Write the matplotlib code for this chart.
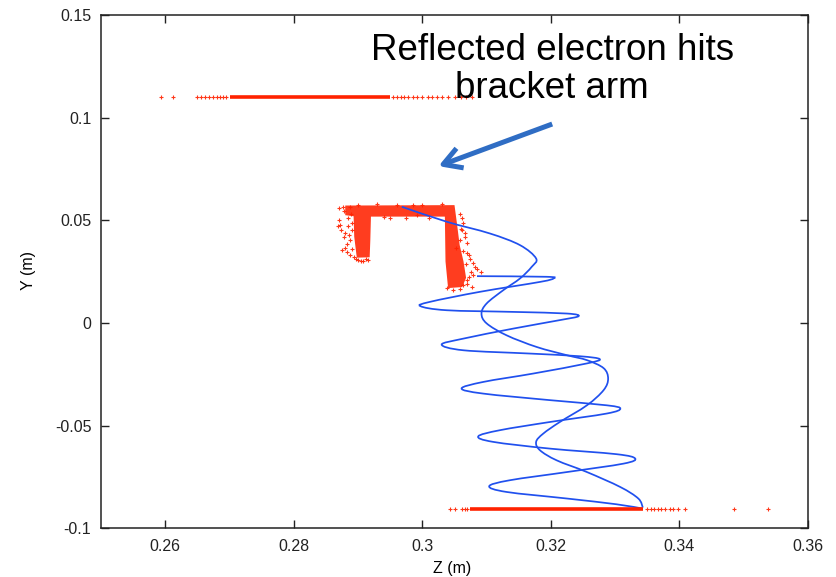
import matplotlib
matplotlib.use("Agg")
import matplotlib.pyplot as plt
from matplotlib.path import Path
from matplotlib.patches import PathPatch

# ---------------- data (Z, Y in metres) ----------------
top_dense_z = [0.2701, 0.2950]
top_y = 0.1102
top_sparse_z = [0.2594, 0.2612, 0.2649, 0.2655, 0.2662, 0.2668, 0.2675, 0.2680,
                0.2685, 0.2690, 0.2695, 0.2955, 0.2960, 0.2966, 0.2972, 0.2978,
                0.2985, 0.2992, 0.3000, 0.3008, 0.3015, 0.3022, 0.3030, 0.3040,
                0.3050, 0.3060, 0.3068, 0.3077]

bot_dense_z = [0.3074, 0.3344]
bot_y = -0.0904
bot_sparse_z = [0.3043, 0.3051, 0.3062, 0.3066, 0.3070, 0.3350, 0.3355, 0.3360,
                0.3366, 0.3372, 0.3378, 0.3385, 0.3390, 0.3398, 0.3409, 0.3485,
                0.3538]

bracket_z = [0.2880, 0.3050, 0.3054, 0.3058, 0.3064, 0.3068, 0.3062, 0.3040,
             0.3036, 0.3035, 0.2920, 0.2919, 0.2918, 0.2898, 0.2894, 0.2893, 0.2880]
bracket_y = [0.0572, 0.0574, 0.0480, 0.0380, 0.0300, 0.0220, 0.0175, 0.0170,
             0.0300, 0.0518, 0.0518, 0.0400, 0.0320, 0.0318, 0.0420, 0.0520, 0.0525]

bracket_sparse_z = [0.2877, 0.2872, 0.2868, 0.2880, 0.2888, 0.2875, 0.2880, 0.2893,
                    0.2900, 0.2908, 0.2913, 0.2885, 0.2890, 0.2882, 0.3064, 0.3066,
                    0.3059, 0.3069, 0.3074, 0.3079, 0.3085, 0.3092, 0.3079, 0.3069,
                    0.3077, 0.3064, 0.3038, 0.3053, 0.3061, 0.2888, 0.2986, 0.2991,
                    0.2870, 0.2874, 0.2878, 0.2884, 0.2886, 0.2883, 0.2887, 0.2890,
                    0.2891, 0.2889, 0.2878, 0.2871, 0.2896, 0.2904, 0.2916,
                    0.3058, 0.3062, 0.3060, 0.3066, 0.3070, 0.3063, 0.3072, 0.3068,
                    0.3082, 0.3075, 0.3072, 0.3070, 0.3058, 0.3048,
                    0.2900, 0.2930, 0.2960, 0.3000, 0.3030, 0.2950, 0.2975, 0.3010,
                    0.2940]
bracket_sparse_y = [0.0566, 0.0477, 0.0472, 0.0436, 0.0404, 0.0355, 0.0363, 0.0322,
                    0.0306, 0.0303, 0.0314, 0.0509, 0.0452, 0.0387, 0.0485, 0.0436,
                    0.0404, 0.0339, 0.0314, 0.0290, 0.0265, 0.0249, 0.0233, 0.0209,
                    0.0176, 0.0184, 0.0168, 0.0363, 0.0452, 0.0566, 0.0574, 0.0525,
                    0.0500, 0.0455, 0.0420, 0.0470, 0.0430, 0.0345, 0.0330, 0.0360,
                    0.0485, 0.0530, 0.0545, 0.0560, 0.0310, 0.0300, 0.0305,
                    0.0530, 0.0510, 0.0460, 0.0420, 0.0390, 0.0350, 0.0330, 0.0285,
                    0.0275, 0.0250, 0.0225, 0.0190, 0.0165, 0.0162,
                    0.0577, 0.0578, 0.0576, 0.0577, 0.0578, 0.0513, 0.0510, 0.0512,
                    0.0515]

wave_z = [0.2968, 0.3038, 0.3105, 0.3152, 0.3177, 0.3170, 0.3152, 0.3126, 0.3100,
          0.3092, 0.3100, 0.3131, 0.3178, 0.3225, 0.3256, 0.3282, 0.3289, 0.3282,
          0.3256, 0.3214, 0.3188, 0.3177, 0.3183, 0.3209, 0.3256, 0.3308, 0.3336,
          0.3343]
wave_y = [0.0566, 0.0493, 0.0436, 0.0379, 0.0314, 0.0273, 0.0217, 0.0160, 0.0095,
          0.0046, -0.0002, -0.0060, -0.0117, -0.0157, -0.0181, -0.0220, -0.0271,
          -0.0327, -0.0401, -0.0482, -0.0539, -0.0579, -0.0620, -0.0669, -0.0726,
          -0.0799, -0.0855, -0.0899]

loop_z = [0.3085, 0.3193, 0.3204, 0.3183, 0.3090, 0.3012, 0.2997, 0.3038, 0.3141,
          0.3225, 0.3243, 0.3214, 0.3142, 0.3064, 0.3030, 0.3064, 0.3168, 0.3245,
          0.3276, 0.3256, 0.3173, 0.3095, 0.3061, 0.3095, 0.3199, 0.3287, 0.3308,
          0.3287, 0.3199, 0.3121, 0.3087, 0.3110, 0.3199, 0.3302, 0.3331, 0.3313,
          0.3225, 0.3136, 0.3104, 0.3131, 0.3225, 0.3302, 0.3343]
loop_y = [0.0228, 0.0225, 0.0217, 0.0200, 0.0152, 0.0103, 0.0082, 0.0062, 0.0054,
          0.0046, 0.0033, 0.0014, -0.0027, -0.0076, -0.0105, -0.0133, -0.0149,
          -0.0162, -0.0176, -0.0197, -0.0246, -0.0287, -0.0319, -0.0344, -0.0376,
          -0.0401, -0.0417, -0.0441, -0.0482, -0.0522, -0.0552, -0.0579, -0.0612,
          -0.0639, -0.0660, -0.0685, -0.0726, -0.0766, -0.0795, -0.0823, -0.0855,
          -0.0883, -0.0904]

x_ticks = [0.26, 0.28, 0.30, 0.32, 0.34, 0.36]
x_ticklabels = ["0.26", "0.28", "0.3", "0.32", "0.34", "0.36"]
y_ticks = [-0.10, -0.05, 0.0, 0.05, 0.10, 0.15]
y_ticklabels = ["-0.1", "-0.05", "0", "0.05", "0.1", "0.15"]

annotation_text = "Reflected electron hits\nbracket arm"
arrow_tip = (0.3025, 0.0764)
arrow_tail = (0.3202, 0.0969)
text_pos = (0.3202, 0.1233)


def smooth_path(xs, ys):
    """Catmull-Rom curve through the read points, as cubic Bezier segments."""
    pts = list(zip(xs, ys))
    verts = [pts[0]]
    codes = [Path.MOVETO]
    n = len(pts)
    for i in range(n - 1):
        p0 = pts[i - 1] if i > 0 else pts[i]
        p1 = pts[i]
        p2 = pts[i + 1]
        p3 = pts[i + 2] if i + 2 < n else pts[i + 1]
        c1 = (p1[0] + (p2[0] - p0[0]) / 6, p1[1] + (p2[1] - p0[1]) / 6)
        c2 = (p2[0] - (p3[0] - p1[0]) / 6, p2[1] - (p3[1] - p1[1]) / 6)
        verts += [c1, c2, p2]
        codes += [Path.CURVE4] * 3
    return Path(verts, codes)


# ---------------- drawing ----------------
plt.rcParams['font.family'] = ['Liberation Sans', 'DejaVu Sans']
RED = '#ff2200'
BLUE = '#2050ee'
ARROW = '#2f6dc4'

fig = plt.figure(figsize=(8.37, 5.77), dpi=100)
ax = fig.add_axes([101 / 837, (577 - 528.3) / 577, 707 / 837, 513.3 / 577])

mk = dict(ls='none', marker='+', ms=3.4, mew=0.8, color=RED, mec=RED, alpha=0.9)
ax.plot(top_dense_z, [top_y, top_y], color=RED, lw=2.6, solid_capstyle='butt')
ax.plot(top_sparse_z, [top_y] * len(top_sparse_z), **mk)
ax.plot(bot_dense_z, [bot_y, bot_y], color=RED, lw=2.6, solid_capstyle='butt')
ax.plot(bot_sparse_z, [bot_y] * len(bot_sparse_z), **mk)
ax.fill(bracket_z, bracket_y, color=RED, alpha=0.88, lw=0)
ax.plot(bracket_sparse_z, bracket_sparse_y, **mk)

for zs, ys in ((wave_z, wave_y), (loop_z, loop_y)):
    ax.add_patch(PathPatch(smooth_path(zs, ys), facecolor='none',
                           edgecolor=BLUE, lw=1.25))

ax.annotate("", xy=arrow_tip, xytext=arrow_tail,
            arrowprops=dict(arrowstyle='->,head_length=1.3,head_width=0.75',
                            color=ARROW, lw=3.6, shrinkA=0, shrinkB=0,
                            capstyle='butt'))
ax.text(text_pos[0], text_pos[1], annotation_text, ha='center', va='center',
        fontsize=26.5, linespacing=1.12, color='black')

ax.set_xlim(0.25, 0.36)
ax.set_ylim(-0.1, 0.15)
ax.set_xticks(x_ticks)
ax.set_xticklabels(x_ticklabels)
ax.set_yticks(y_ticks)
ax.set_yticklabels(y_ticklabels)
ax.tick_params(direction='in', length=6, width=1.0, top=True, right=True,
               labelsize=11.5, colors='#222222', pad=8)
ax.tick_params(axis='y', pad=7)
for s in ax.spines.values():
    s.set_linewidth(1.1)
    s.set_color('#222222')

ax.set_xlabel("Z (m)", fontsize=11.5)
ax.set_ylabel("Y (m)", fontsize=11.5)
ax.xaxis.set_label_coords(0.496, -0.064)
ax.yaxis.set_label_coords(-0.092, 0.503)

fig.savefig("out.png", dpi=100)
